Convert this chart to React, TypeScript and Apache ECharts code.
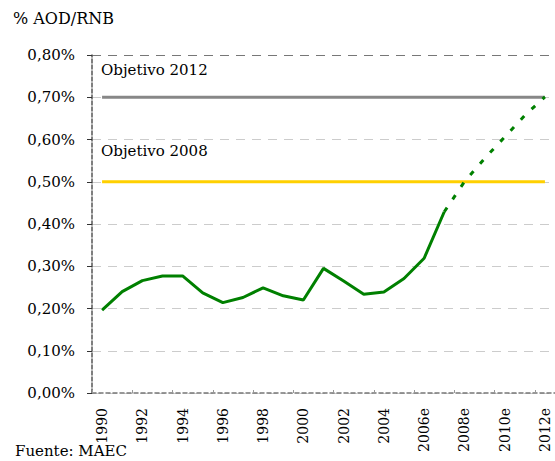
import React, { useEffect, useRef } from "react";
import * as echarts from "echarts";

const years = [
  "1990", "1991", "1992", "1993", "1994", "1995", "1996", "1997", "1998", "1999",
  "2000", "2001", "2002", "2003", "2004", "2005", "2006e", "2007e", "2008e",
  "2009e", "2010e", "2011e", "2012e",
];
const aodActual = [
  0.196, 0.24, 0.266, 0.277, 0.277, 0.237, 0.214, 0.226, 0.249, 0.23,
  0.22, 0.295, 0.265, 0.234, 0.239, 0.271, 0.319, 0.429, null, null, null, null, null,
];
const aodProjected = [
  null, null, null, null, null, null, null, null, null, null,
  null, null, null, null, null, null, null, 0.429, 0.5, 0.555, 0.606, 0.657, 0.701,
];
const objetivo2012 = years.map(() => 0.7);
const objetivo2008 = years.map(() => 0.5);
const yTicks = [0, 0.1, 0.2, 0.3, 0.4, 0.5, 0.6, 0.7, 0.8];

const serif = "DejaVu Serif";

export default function App() {
  const ref = useRef<HTMLDivElement>(null);
  useEffect(() => {
    const chart = echarts.init(ref.current!, null, { renderer: "svg" });
    chart.setOption({
      animation: false,
      grid: { left: 92, top: 55, bottom: 68, width: 466 },
      xAxis: {
        type: "category",
        data: years,
        boundaryGap: true,
        axisLine: { lineStyle: { color: "#777", type: [4, 3], width: 1.5 } },
        axisTick: { show: true, inside: true, length: 3, lineStyle: { color: "#999" } },
        axisLabel: {
          interval: 1,
          rotate: 90,
          margin: 15,
          color: "#000",
          fontFamily: serif,
          fontSize: 14,
        },
        splitLine: { show: false },
      },
      yAxis: {
        type: "value",
        min: 0,
        max: 0.8,
        interval: 0.1,
        axisLine: { show: true, lineStyle: { color: "#555", type: [4, 2], width: 1.5 } },
        axisTick: { show: true, length: 5, lineStyle: { color: "#333" } },
        axisLabel: {
          color: "#000",
          fontFamily: serif,
          fontSize: 15,
          margin: 17,
          formatter: (v: number) => {
            const t = yTicks.find((x) => Math.abs(x - v) < 1e-9);
            return (t ?? v).toFixed(2).replace(".", ",") + "%";
          },
        },
        splitLine: {
          show: true,
          lineStyle: {
            type: [9, 7],
            width: 1,
            color: ["#ccc", "#ccc", "#ccc", "#ccc", "#ccc", "#ccc", "#ccc", "#ccc", "#777"],
          },
        },
      },
      series: [
        {
          type: "line",
          data: objetivo2012,
          symbol: "none",
          lineStyle: { color: "#878787", width: 3 },
          z: 2,
        },
        {
          type: "line",
          data: objetivo2008,
          symbol: "none",
          lineStyle: { color: "#FFD000", width: 3 },
          z: 2,
        },
        {
          type: "line",
          data: aodActual,
          symbol: "none",
          connectNulls: false,
          lineStyle: { color: "#008000", width: 3 },
          z: 3,
        },
        {
          type: "line",
          data: aodProjected,
          symbol: "none",
          connectNulls: false,
          lineStyle: { color: "#008000", width: 3, type: [5, 10] },
          z: 3,
        },
      ],
      graphic: [
        {
          type: "text",
          left: 13,
          top: 10,
          style: { text: "% AOD/RNB", fill: "#000", font: `16px "${serif}"` },
        },
        {
          type: "text",
          left: 101,
          top: 62,
          style: { text: "Objetivo 2012", fill: "#000", font: `15px "${serif}"` },
        },
        {
          type: "text",
          left: 101,
          top: 143,
          style: { text: "Objetivo 2008", fill: "#000", font: `15px "${serif}"` },
        },
        {
          type: "text",
          left: 15,
          top: 443,
          style: { text: "Fuente: MAEC", fill: "#000", font: `15px "${serif}"` },
        },
      ],
    });
    return () => chart.dispose();
  }, []);
  return <div ref={ref} style={{ width: 555, height: 461, position: "absolute", left: 0, top: 0 }} />;
}
